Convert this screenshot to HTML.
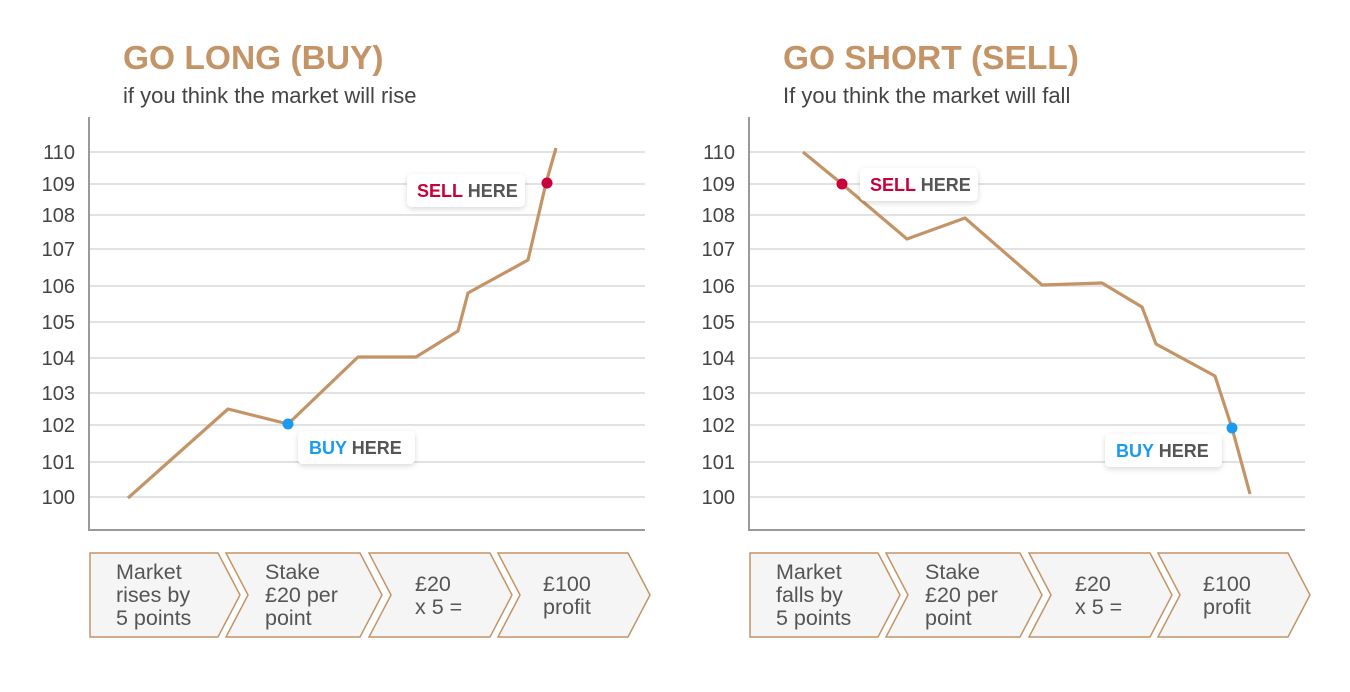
<!DOCTYPE html>
<html><head><meta charset="utf-8"><style>
html,body{margin:0;padding:0;background:#fff;}
svg text{font-family:"Liberation Sans",sans-serif;}
</style></head><body>
<svg width="1350" height="687" viewBox="0 0 1350 687" xmlns="http://www.w3.org/2000/svg">
<defs>
<filter id="sh" x="-20%" y="-30%" width="140%" height="170%"><feDropShadow dx="0" dy="2" stdDeviation="3" flood-color="#000" flood-opacity="0.15"/></filter>
<g id="grid">
<g stroke="#e2e2e2" stroke-width="2">
<line x1="90" x2="645" y1="152" y2="152"/><line x1="90" x2="645" y1="184" y2="184"/>
<line x1="90" x2="645" y1="215" y2="215"/><line x1="90" x2="645" y1="249" y2="249"/>
<line x1="90" x2="645" y1="286" y2="286"/><line x1="90" x2="645" y1="322" y2="322"/>
<line x1="90" x2="645" y1="358" y2="358"/><line x1="90" x2="645" y1="393" y2="393"/>
<line x1="90" x2="645" y1="425" y2="425"/><line x1="90" x2="645" y1="462" y2="462"/>
<line x1="90" x2="645" y1="497" y2="497"/>
</g>
<line x1="89" y1="117" x2="89" y2="531" stroke="#9a9a9a" stroke-width="2"/>
<line x1="88" y1="530" x2="645" y2="530" stroke="#9a9a9a" stroke-width="2"/>
<g font-size="20" fill="#444" text-anchor="end">
<text x="75" y="159">110</text><text x="75" y="191">109</text><text x="75" y="222">108</text>
<text x="75" y="256">107</text><text x="75" y="293">106</text><text x="75" y="329">105</text>
<text x="75" y="365">104</text><text x="75" y="400">103</text><text x="75" y="432">102</text>
<text x="75" y="469">101</text><text x="75" y="504">100</text>
</g>
<g fill="#f5f5f5" stroke="#c49467" stroke-width="1.5">
<polygon points="90,553 218,553 240,595 218,637 90,637"/>
<polygon points="226,553 360,553 382,595 360,637 226,637 248,595"/>
<polygon points="369,553 490,553 512,595 490,637 369,637 391,595"/>
<polygon points="498,553 628,553 650,595 628,637 498,637 520,595"/>
</g>
<g font-size="21.5" fill="#555">
<text x="265" y="579">Stake</text><text x="265" y="602">£20 per</text><text x="265" y="625">point</text>
<text x="415" y="591">£20</text><text x="415" y="614">x 5 =</text>
<text x="543" y="591">£100</text><text x="543" y="614">profit</text>
</g>
</g>
</defs>

<use href="#grid"/>
<use href="#grid" transform="translate(660,0)"/>

<text x="123" y="69" font-size="33.5" font-weight="bold" fill="#c49467">GO LONG (BUY)</text>
<text x="123" y="103" font-size="22" fill="#444">if you think the market will rise</text>
<text x="783" y="69" font-size="33.5" font-weight="bold" fill="#c49467">GO SHORT (SELL)</text>
<text x="783" y="103" font-size="22" fill="#444">If you think the market will fall</text>

<g font-size="21.5" fill="#555">
<text x="116" y="579">Market</text><text x="116" y="602">rises by</text><text x="116" y="625">5 points</text>
<text x="776" y="579">Market</text><text x="776" y="602">falls by</text><text x="776" y="625">5 points</text>
</g>

<polyline fill="none" stroke="#c49467" stroke-width="3.2" stroke-linejoin="round" points="128,498 228,409 288,424 358,357 416,357 458,331 468,293 528,260 546,183 556,148"/>
<polyline fill="none" stroke="#c49467" stroke-width="3.2" stroke-linejoin="round" points="803,152 842,184 907,239 965,218 1042,285 1102,283 1142,307 1156,344 1215,376 1232,428 1250,494"/>

<circle cx="288" cy="424" r="5.5" fill="#1a9bf0"/>
<circle cx="547" cy="183" r="5.5" fill="#c8003c"/>
<circle cx="842" cy="184" r="5.5" fill="#c8003c"/>
<circle cx="1232" cy="428" r="5.5" fill="#1a9bf0"/>

<g filter="url(#sh)" fill="#fff">
<rect x="407" y="174" width="118" height="33" rx="5"/>
<rect x="298" y="431" width="117" height="33" rx="5"/>
<rect x="860" y="168" width="118" height="33" rx="5"/>
<rect x="1105" y="434" width="117" height="33" rx="5"/>
</g>
<g font-size="18" font-weight="bold">
<text x="417" y="197"><tspan fill="#c8003c">SELL</tspan><tspan fill="#555"> HERE</tspan></text>
<text x="309" y="454"><tspan fill="#1a9bf0">BUY</tspan><tspan fill="#555"> HERE</tspan></text>
<text x="870" y="191"><tspan fill="#c8003c">SELL</tspan><tspan fill="#555"> HERE</tspan></text>
<text x="1116" y="457"><tspan fill="#1a9bf0">BUY</tspan><tspan fill="#555"> HERE</tspan></text>
</g>
</svg>
</body></html>
